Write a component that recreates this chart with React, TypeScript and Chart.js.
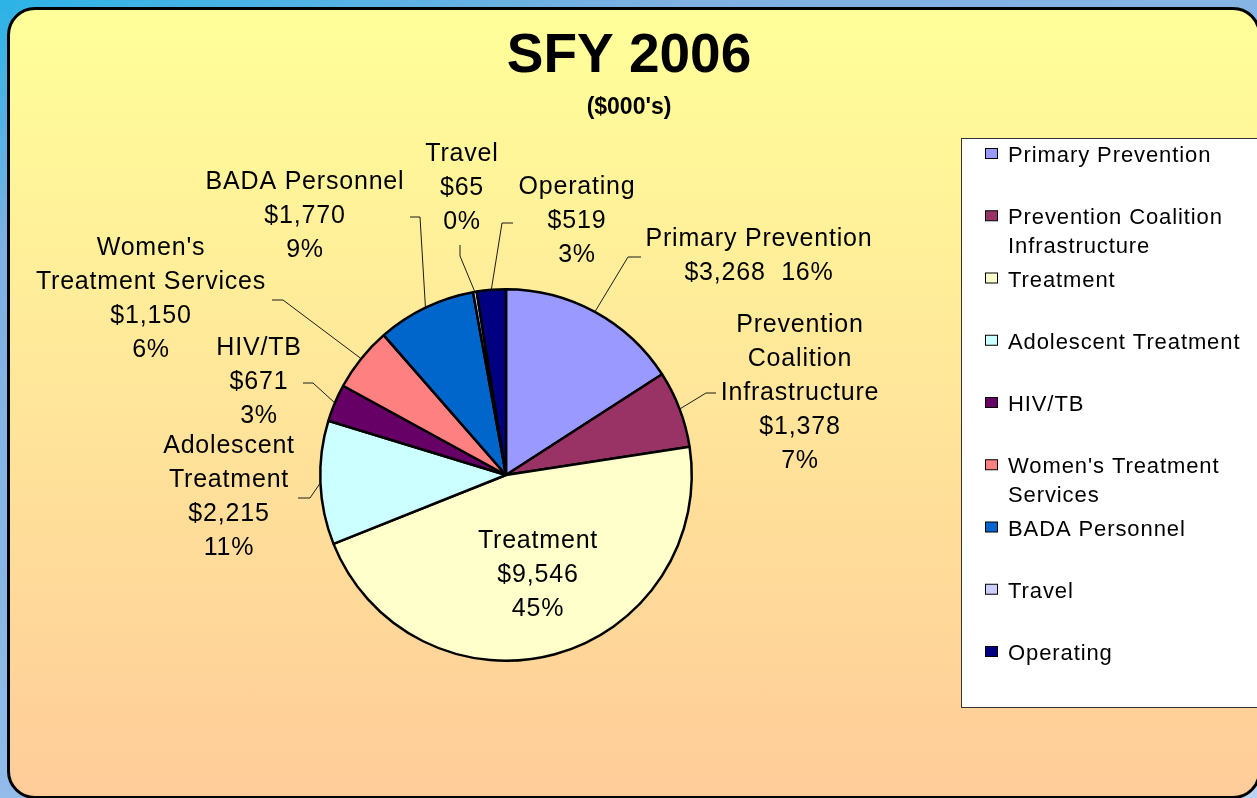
import React, { useEffect, useRef } from "react";
import { Chart, registerables } from "chart.js";

Chart.register(...registerables);

// ---------- data ----------
const categories = [
  "Primary Prevention",
  "Prevention Coalition Infrastructure",
  "Treatment",
  "Adolescent Treatment",
  "HIV/TB",
  "Women's Treatment Services",
  "BADA Personnel",
  "Travel",
  "Operating",
];
const amounts = [3268, 1378, 9546, 2215, 671, 1150, 1770, 65, 519];
const percentLabels = ["16%", "7%", "45%", "11%", "3%", "6%", "9%", "0%", "3%"];
const sliceColors = [
  "#9999FF",
  "#993366",
  "#FFFFCC",
  "#CCFFFF",
  "#660066",
  "#FF8080",
  "#0066CC",
  "#CCCCFF",
  "#000080",
];
const labelNames = [
  "Primary Prevention",
  "Prevention\nCoalition\nInfrastructure",
  "Treatment",
  "Adolescent\nTreatment",
  "HIV/TB",
  "Women's\nTreatment Services",
  "BADA Personnel",
  "Travel",
  "Operating",
];
const titleText = "SFY 2006";
const subtitleText = "($000's)";

// ---------- layout (relative to pie centre) ----------
type LabelLayout = {
  dx: number;
  dy: number;
  joined?: boolean;
  leader?: [number, number][];
};
const labelLayout: LabelLayout[] = [
  { dx: 253, dy: -229, joined: true, leader: [[135, -218], [122, -218]] },
  { dx: 294, dy: -143, leader: [[210, -82], [200, -82]] },
  { dx: 32, dy: 73 },
  { dx: -277, dy: -22, leader: [[-208, 23], [-196, 23]] },
  { dx: -247, dy: -120, leader: [[-203, -92], [-193, -92]] },
  { dx: -355, dy: -220, leader: [[-234, -175], [-223, -175]] },
  { dx: -201, dy: -286, leader: [[-96, -258], [-86, -258]] },
  { dx: -44, dy: -314, leader: [[-46, -230], [-46, -219]] },
  { dx: 71, dy: -281, leader: [[7, -252], [-4, -252]] },
];

const FONT = "'Liberation Sans', Arial, Helvetica, sans-serif";
const W = 1257;
const H = 798;

function fmtMoney(v: number) {
  return "$" + v.toLocaleString("en-US");
}

function wrap(ctx: CanvasRenderingContext2D, text: string, maxW: number) {
  const words = text.split(" ");
  const lines: string[] = [];
  let cur = "";
  for (const w of words) {
    const t = cur ? cur + " " + w : w;
    if (cur && ctx.measureText(t).width > maxW) {
      lines.push(cur);
      cur = w;
    } else cur = t;
  }
  if (cur) lines.push(cur);
  return lines;
}

const overlayPlugin = {
  id: "overlay",
  afterDraw(chart: any) {
    const ctx: CanvasRenderingContext2D = chart.ctx;
    const meta = chart.getDatasetMeta(0);
    const first = meta.data[0] as any;
    const cx = first.x;
    const cy = first.y;
    ctx.save();

    // Title
    ctx.fillStyle = "#000";
    ctx.textAlign = "center";
    ctx.textBaseline = "alphabetic";
    (ctx as any).letterSpacing = "0px";
    ctx.font = `bold 55px ${FONT}`;
    ctx.fillText(titleText, 629, 72);
    ctx.font = `bold 23px ${FONT}`;
    ctx.fillText(subtitleText, 629, 114);

    // Leader lines
    ctx.strokeStyle = "#1a1a1a";
    ctx.lineWidth = 1;
    meta.data.forEach((arc: any, i: number) => {
      const lay = labelLayout[i];
      if (!lay.leader) return;
      const mid = (arc.startAngle + arc.endAngle) / 2;
      const ex = arc.x + Math.cos(mid) * arc.outerRadius;
      const ey = arc.y + Math.sin(mid) * arc.outerRadius;
      ctx.beginPath();
      ctx.moveTo(cx + lay.leader[0][0], cy + lay.leader[0][1]);
      for (let k = 1; k < lay.leader.length; k++) {
        ctx.lineTo(cx + lay.leader[k][0], cy + lay.leader[k][1]);
      }
      ctx.lineTo(ex, ey);
      ctx.stroke();
    });

    // Data labels
    ctx.font = `25px ${FONT}`;
    (ctx as any).letterSpacing = "0.8px";
    ctx.fillStyle = "#000";
    ctx.textAlign = "center";
    categories.forEach((_, i) => {
      const lay = labelLayout[i];
      const lines = labelNames[i].split("\n");
      if (lay.joined) {
        lines.push(fmtMoney(amounts[i]) + "  " + percentLabels[i]);
      } else {
        lines.push(fmtMoney(amounts[i]));
        lines.push(percentLabels[i]);
      }
      lines.forEach((ln, k) => {
        ctx.fillText(ln, cx + lay.dx, cy + lay.dy + k * 34);
      });
    });

    // Legend
    const lx = 961.5;
    const ly = 138.5;
    ctx.fillStyle = "#ffffff";
    ctx.fillRect(lx, ly, 320, 569);
    ctx.strokeStyle = "#333";
    ctx.lineWidth = 1;
    ctx.strokeRect(lx, ly, 320, 569);
    ctx.font = `22px ${FONT}`;
    (ctx as any).letterSpacing = "0.9px";
    ctx.textAlign = "left";
    categories.forEach((name, i) => {
      const base = 162 + i * 62.25;
      const lines = wrap(ctx, name, 240);
      ctx.fillStyle = sliceColors[i];
      ctx.fillRect(985.5, base - 13.5, 12, 10);
      ctx.strokeStyle = "#000";
      ctx.strokeRect(985.5, base - 13.5, 12, 10);
      ctx.fillStyle = "#000";
      lines.forEach((ln, k) => ctx.fillText(ln, 1008, base + k * 29));
    });

    ctx.restore();
  },
};

export default function App() {
  const ref = useRef<HTMLCanvasElement | null>(null);

  useEffect(() => {
    const prevMargin = document.body.style.margin;
    document.body.style.margin = "0";
    if (!ref.current) return;
    const chart = new Chart(ref.current, {
      type: "pie",
      data: {
        labels: categories,
        datasets: [
          {
            data: amounts,
            backgroundColor: sliceColors,
            borderColor: "#000",
            borderWidth: 2.5,
          },
        ],
      },
      options: {
        responsive: false,
        animation: false,
        layout: { padding: { left: 319, right: 564, top: 288, bottom: 136 } },
        plugins: {
          legend: { display: false },
          tooltip: { enabled: false },
          title: { display: false },
        },
      },
      plugins: [overlayPlugin],
    });
    return () => {
      chart.destroy();
      document.body.style.margin = prevMargin;
    };
  }, []);

  return (
    <div
      style={{
        position: "fixed",
        left: 0,
        top: 0,
        width: W,
        height: H,
        overflow: "hidden",
        background: "linear-gradient(160deg, #2bb3e6 0%, #7fb0e2 20%, #8fb9e8 60%, #b9d3f2 100%)",
      }}
    >
      <div
        style={{
          position: "absolute",
          left: 7,
          top: 7,
          width: 1254,
          height: 792,
          boxSizing: "border-box",
          border: "3px solid #000",
          borderRadius: 28,
          background: "linear-gradient(to bottom, #FFFF99 0%, #FFE89A 45%, #FFCC99 100%)",
        }}
      />
      <canvas
        ref={ref}
        width={W}
        height={H}
        style={{ position: "absolute", left: 0, top: 0, width: W, height: H }}
      />
    </div>
  );
}
